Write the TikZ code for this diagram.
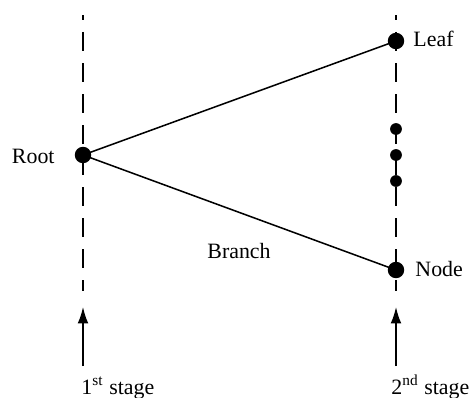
\documentclass[tikz,border=0pt]{standalone}
\usepackage{fontspec}
\setmainfont{Liberation Serif}
\usetikzlibrary{arrows.meta}
\begin{document}
\begin{tikzpicture}[x=0.425pt,y=-0.425pt,
  stage/.style={line width=0.6pt, dash pattern=on 8.1pt off 5.1pt, dash phase=6pt},
  bigdot/.style={circle, fill=black, inner sep=0pt, minimum size=7pt},
  smalldot/.style={circle, fill=black, inner sep=0pt, minimum size=5pt},
  edge/.style={line width=0.65pt},
  uparrow/.style={line width=0.65pt, -{Latex[length=7pt,width=4.6pt]}},
  lbl/.style={inner sep=0pt, font=\fontsize{9.3}{11}\selectfont}]
\useasboundingbox (0,0) rectangle (471,398);
% stage lines
\coordinate (l1top) at (83,15); \coordinate (l1bot) at (83,291);
\coordinate (l2top) at (396,15); \coordinate (l2bot) at (396,291);
\draw[stage] (l1top) -- (l1bot);
\draw[stage] (l2top) -- (l2bot);
% nodes
\node[bigdot] (root) at (83,155) {};
\node[bigdot] (leaf) at (396,41) {};
\node[bigdot] (nd) at (396,270) {};
\node[smalldot] (d1) at (396,129) {};
\node[smalldot] (d2) at (396,155) {};
\node[smalldot] (d3) at (396,181) {};
\draw[edge] (root.center) -- (leaf.center);
\draw[edge] (root.center) -- (nd.center);
% labels
\node[lbl, anchor=base east] (rootlbl) at (55,163) {Root};
\node[lbl, anchor=base west] (leaflbl) at (413,46) {Leaf};
\node[lbl, anchor=base west] (ndlbl) at (415,276) {Node};
\node[lbl, anchor=base] (branchlbl) at (239,258) {Branch};
% arrows
\coordinate (a1s) at (83,366); \coordinate (a1e) at (83,307);
\coordinate (a2s) at (396,366); \coordinate (a2e) at (396,307);
\draw[uparrow] (a1s) -- (a1e);
\draw[uparrow] (a2s) -- (a2e);
\node[lbl, anchor=base west] (s1) at (81,394) {1\textsuperscript{st} stage};
\node[lbl, anchor=base west] (s2) at (391,394) {2\textsuperscript{nd} stage};
\end{tikzpicture}
\end{document}
